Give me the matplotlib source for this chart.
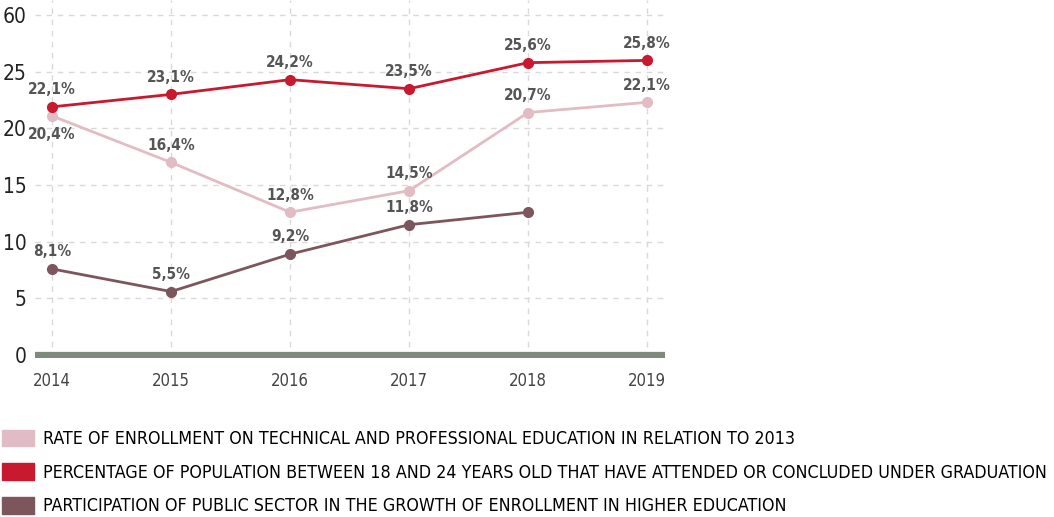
import matplotlib
matplotlib.use("Agg")
import matplotlib.pyplot as plt
from matplotlib.patches import Patch
from matplotlib import font_manager as fm

# pick a narrow font if one is around
fonts = fm.fontManager.ttflist
if any(f.name == 'Liberation Sans Narrow' for f in fonts):
    fam, stretch = 'Liberation Sans Narrow', 'normal'
elif any(f.name == 'DejaVu Sans' and f.stretch == 'condensed' for f in fonts):
    fam, stretch = 'DejaVu Sans', 'condensed'
else:
    fam, stretch = 'Roboto', 'normal'
plt.rcParams['font.family'] = [fam, 'DejaVu Sans']
plt.rcParams['font.stretch'] = stretch

# data
years = [2014, 2015, 2016, 2017, 2018, 2019]
tecnica = [21.1, 17.0, 12.6, 14.5, 21.4, 22.3]
tecnica_lbl = ['20,4%', '16,4%', '12,8%', '14,5%', '20,7%', '22,1%']
populacao = [21.9, 23.0, 24.3, 23.5, 25.8, 26.0]
populacao_lbl = ['22,1%', '23,1%', '24,2%', '23,5%', '25,6%', '25,8%']
publico_years = [2014, 2015, 2016, 2017, 2018]
publico = [7.6, 5.6, 8.9, 11.5, 12.6]
publico_lbl = ['8,1%', '5,5%', '9,2%', '11,8%', '']

yticks = [0, 5, 10, 15, 20, 25, 30]
ytick_lbl = ['0', '5', '10', '15', '20', '25', '60']

legend_txt = [
    'RATE OF ENROLLMENT ON TECHNICAL AND PROFESSIONAL EDUCATION IN RELATION TO 2013',
    'PERCENTAGE OF POPULATION BETWEEN 18 AND 24 YEARS OLD THAT HAVE ATTENDED OR CONCLUDED UNDER GRADUATION',
    'PARTICIPATION OF PUBLIC SECTOR IN THE GROWTH OF ENROLLMENT IN HIGHER EDUCATION',
]

c_pink = '#e2bcc4'
c_red = '#c8192f'
c_purple = '#7d555d'

fig = plt.figure(figsize=(10.54, 5.17), dpi=100)
ax = fig.add_axes([0.0332, 0.3075, 0.5977, 0.6925])

# grid
for y in yticks[1:]:
    ax.axhline(y, color='#d9d9d9', lw=1, ls=(0, (4, 4)), zorder=0)
for x in years:
    ax.axvline(x, color='#d9d9d9', lw=1, ls=(0, (4, 4)), zorder=0)
ax.axhline(0, color='#808a7c', lw=4.5, zorder=1)

ax.plot(years, tecnica, color=c_pink, lw=2, marker='o', ms=7, zorder=3)
ax.plot(years, populacao, color=c_red, lw=2, marker='o', ms=7, zorder=4)
ax.plot(publico_years, publico, color=c_purple, lw=2, marker='o', ms=7, zorder=3)

lbl_kw = dict(ha='center', fontsize=11, fontweight='bold', color='#555555')
for i, (x, y) in enumerate(zip(years, populacao)):
    ax.annotate(populacao_lbl[i], (x, y), xytext=(0, 7), textcoords='offset points',
                va='bottom', **lbl_kw)
for i, (x, y) in enumerate(zip(years, tecnica)):
    if i == 0:
        ax.annotate(tecnica_lbl[i], (x, y), xytext=(0, -8), textcoords='offset points',
                    va='top', **lbl_kw)
    else:
        ax.annotate(tecnica_lbl[i], (x, y), xytext=(0, 7), textcoords='offset points',
                    va='bottom', **lbl_kw)
for i, (x, y) in enumerate(zip(publico_years, publico)):
    ax.annotate(publico_lbl[i], (x, y), xytext=(0, 7), textcoords='offset points',
                va='bottom', **lbl_kw)

ax.set_xlim(2013.857, 2019.15)
ax.set_ylim(-0.265, 31.33)
ax.set_xticks(years)
ax.set_xticklabels([str(y) for y in years], fontsize=12, color='#444444')
ax.set_yticks(yticks)
ax.set_yticklabels(ytick_lbl, fontsize=15, color='#222222')
ax.tick_params(length=0, pad=6)
ax.tick_params(axis='x', pad=10)
for s in ax.spines.values():
    s.set_visible(False)

# legend font size: as big as fits in the width
renderer = fig.canvas.get_renderer()
leg_size = 15
while leg_size > 8:
    t = fig.text(0, 0, legend_txt[1], fontsize=leg_size)
    w = t.get_window_extent(renderer).width
    t.remove()
    if w <= 1005:
        break
    leg_size -= 0.25

handles = [Patch(color=c_pink), Patch(color=c_red), Patch(color=c_purple)]
px = leg_size * 100 / 72
fig.legend(handles, legend_txt, loc='lower left', bbox_to_anchor=(0.0, 0.0),
           frameon=False, fontsize=leg_size, handlelength=32 / px, handleheight=19 / px,
           handletextpad=9 / px, labelspacing=(33 - px) / px, borderaxespad=0, borderpad=0.1)

fig.savefig('out.png', dpi=100)
